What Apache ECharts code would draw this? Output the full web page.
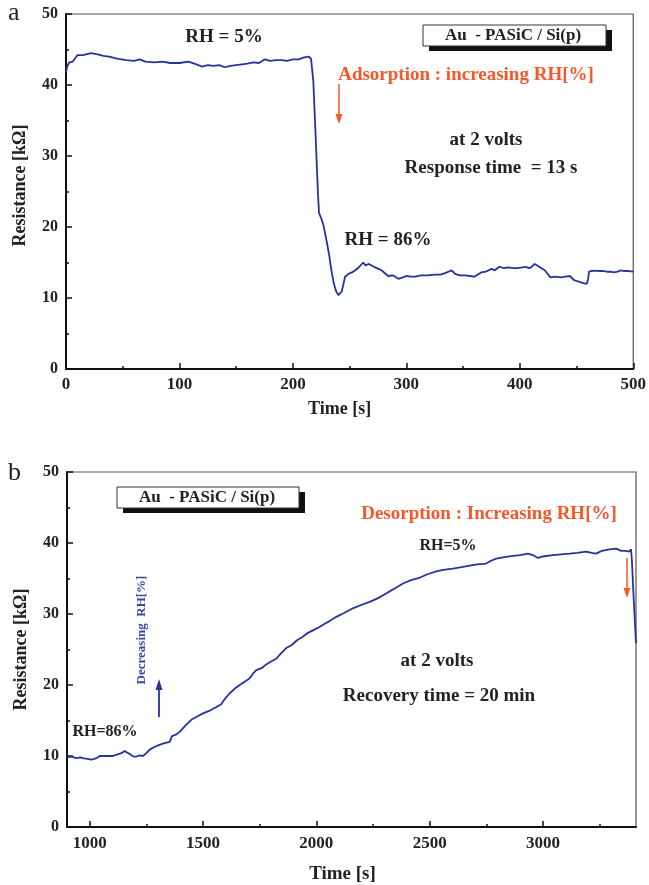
<!DOCTYPE html>
<html>
<head>
<meta charset="utf-8">
<script src="https://cdn.jsdelivr.net/npm/echarts@6/dist/echarts.min.js"></script>
<style>
html,body{margin:0;padding:0;background:#fff;}
#chart{width:649px;height:885px;}
</style>
</head>
<body>
<div id="chart"></div>
<script>
// ---- Panel a: adsorption (Time [s] vs Resistance [kΩ]) ----
const timeA = [0,1,3,6,10,15,22,28,33,38,45,53,60,65,70,78,85,92,100,108,115,120,125,130,135,140,145,150,155,160,165,170,175,180,185,190,195,200,205,210,214,216,218,220,222,223,225,227,230,232,234,236,238,240,241,243,246,249,252,255,258,262,264,267,270,274,278,284,288,293,297,300,304,308,313,319,325,330,334,337,340,343,347,352,356,360,363,366,370,375,378,382,386,390,394,398,402,405,408,410,413,415,418,422,427,431,436,440,444,448,452,456,459,460,461,463,466,470,474,477,480,483,486,489,492,496,500];
const resA = [41.8,42.6,43.2,43.3,44.2,44.2,44.5,44.3,44.1,44.0,43.7,43.5,43.4,43.6,43.3,43.2,43.3,43.1,43.1,43.3,42.9,42.6,42.8,42.7,42.8,42.5,42.7,42.8,42.9,43.0,43.2,43.1,43.6,43.4,43.5,43.5,43.4,43.6,43.6,43.9,44.0,43.7,40.5,33.0,25.0,22.0,21.2,20.2,17.8,16.0,13.8,12.1,11.0,10.4,10.3,10.9,13.0,13.4,13.6,13.9,14.3,15.0,14.6,14.8,14.5,14.2,13.9,13.1,13.2,12.7,12.9,13.1,13.0,13.0,13.2,13.2,13.3,13.3,13.5,13.7,13.9,13.4,13.2,13.2,13.1,13.0,13.3,13.6,13.7,14.1,13.9,14.4,14.2,14.3,14.2,14.2,14.3,14.4,14.2,14.3,14.8,14.6,14.3,13.9,12.9,13.0,12.9,13.0,13.1,12.5,12.3,12.1,12.0,12.5,13.7,13.8,13.85,13.8,13.8,13.7,13.7,13.6,13.7,13.9,13.8,13.8,13.7];

// ---- Panel b: desorption ----
const timeB = [900,920,940,960,970,990,1007,1020,1030,1044,1060,1080,1102,1120,1140,1154,1165,1180,1195,1206,1220,1235,1250,1265,1287,1310,1330,1353,1358,1363,1380,1397,1420,1448,1470,1500,1530,1559,1580,1600,1617,1640,1662,1685,1705,1720,1735,1760,1779,1800,1823,1845,1867,1890,1915,1940,1960,1985,2010,2035,2058,2088,2120,2161,2200,2235,2270,2308,2340,2382,2420,2455,2490,2529,2560,2602,2640,2676,2710,2749,2770,2793,2830,2867,2900,2933,2955,2977,3000,3043,3080,3117,3150,3190,3215,3234,3260,3293,3322,3345,3366,3380,3388,3392,3400,3410];
const resB = [9.8,9.9,9.7,9.8,9.7,9.6,9.5,9.6,9.7,10.0,10.0,10.0,10.0,10.2,10.4,10.7,10.5,10.2,9.9,9.9,10.1,10.0,10.4,10.9,11.3,11.6,11.8,12.0,12.1,12.8,13.0,13.4,14.2,15.1,15.5,16.0,16.4,16.9,17.3,18.2,18.8,19.5,20.0,20.5,20.9,21.6,22.1,22.4,22.9,23.3,23.7,24.5,25.2,25.6,26.3,26.8,27.3,27.7,28.1,28.6,29.0,29.6,30.1,30.8,31.3,31.7,32.2,32.9,33.5,34.3,34.8,35.1,35.6,36.0,36.2,36.4,36.6,36.8,37.0,37.1,37.5,37.8,38.0,38.2,38.3,38.5,38.3,37.9,38.1,38.3,38.4,38.5,38.6,38.8,38.6,38.5,38.9,39.1,39.2,38.9,38.9,38.8,39.1,37.5,32.0,25.9];

// ---- Axis ticks ----
const yTicks = [0,10,20,30,40,50];
const xTicksA = [0,100,200,300,400,500];
const xLabelsB = [1000,1500,2000,2500,3000];
const xMinorB = [1250,1750,2250,2750,3250];

const serif = '"Liberation Serif","DejaVu Serif",serif';
const lineColor = '#28329a';
const red = '#f2582c';

const dataA = timeA.map((t,i)=>[t,resA[i]]);
const dataB = timeB.map((t,i)=>[t,resB[i]]);
const plain = v => String(v);

function yAxis(gi){
  return {
    type:'value', gridIndex:gi, min:0, max:50, interval:10,
    axisLine:{show:true, lineStyle:{color:'#111', width:2}},
    axisTick:{show:true, inside:true, length:6, lineStyle:{color:'#111', width:1.5}},
    minorTick:{show:true, splitNumber:2, length:3, lineStyle:{color:'#111', width:1.5}},
    splitLine:{show:false}, minorSplitLine:{show:false},
    axisLabel:{margin:8, color:'#222', fontFamily:serif, fontWeight:'bold', fontSize:16, customValues:yTicks, formatter:plain},
    name:'Resistance [kΩ]', nameLocation:'middle', nameGap:37, nameRotate:90,
    nameTextStyle:{color:'#222', fontFamily:serif, fontWeight:'bold', fontSize:18, padding: gi===0 ? [0,0,0,12] : [0,0,0,0]}
  };
}

const big = 'bold 19px '+serif;
const option = {
  animation:false,
  backgroundColor:'#fff',
  grid:[
    {left:66, top:14, width:570, height:355, show:true, borderColor:'#555', borderWidth:1.2, backgroundColor:'transparent'},
    {left:67, top:472, width:569, height:355, show:true, borderColor:'#555', borderWidth:1.2, backgroundColor:'transparent'}
  ],
  xAxis:[
    {
      type:'value', gridIndex:0, min:0, max:500, interval:100, position:'bottom',
      axisLine:{show:true, lineStyle:{color:'#111', width:2}},
      axisTick:{show:true, inside:true, length:6, lineStyle:{color:'#111', width:1.5}},
      minorTick:{show:true, splitNumber:2, length:3, lineStyle:{color:'#111', width:1.5}},
      splitLine:{show:false}, minorSplitLine:{show:false},
      axisLabel:{margin:7, color:'#222', fontFamily:serif, fontWeight:'bold', fontSize:17, customValues:xTicksA, formatter:plain},
      name:'Time [s]', nameLocation:'middle', nameGap:31,
      nameTextStyle:{color:'#222', fontFamily:serif, fontWeight:'bold', fontSize:18, padding:[0,20,0,0]}
    },
    {
      type:'value', gridIndex:1, min:900, max:3410, position:'bottom',
      axisLine:{show:true, lineStyle:{color:'#111', width:2}},
      axisTick:{show:true, inside:true, length:6, customValues:xLabelsB, lineStyle:{color:'#111', width:1.5}},
      splitLine:{show:false},
      axisLabel:{margin:8, color:'#222', fontFamily:serif, fontWeight:'bold', fontSize:17, customValues:xLabelsB, formatter:plain},
      name:'Time [s]', nameLocation:'middle', nameGap:38,
      nameTextStyle:{color:'#222', fontFamily:serif, fontWeight:'bold', fontSize:19, padding:[0,18,0,0]}
    },
    {
      type:'value', gridIndex:1, min:900, max:3410, position:'bottom', offset:0,
      axisLine:{show:false},
      axisTick:{show:true, inside:true, length:3, customValues:xMinorB, lineStyle:{color:'#111', width:1.5}},
      splitLine:{show:false},
      axisLabel:{show:false}
    }
  ],
  yAxis:[yAxis(0), yAxis(1)],
  series:[
    {type:'line', xAxisIndex:0, yAxisIndex:0, data:dataA, showSymbol:false, symbol:'none',
     lineStyle:{color:lineColor, width:1.8}},
    {type:'line', xAxisIndex:1, yAxisIndex:1, data:dataB, showSymbol:false, symbol:'none',
     lineStyle:{color:lineColor, width:1.8}}
  ],
  graphic:[
    // panel letters
    {type:'text', left:8, top:0, style:{text:'a', font:'26px '+serif, fill:'#222'}},
    {type:'text', left:8, top:460, style:{text:'b', font:'26px '+serif, fill:'#222'}},
    // panel a annotations
    {type:'text', x:224, y:37, style:{text:'RH = 5%', font:big, fill:'#222', align:'center', verticalAlign:'middle'}},
    {type:'rect', shape:{x:429, y:30, width:183, height:21}, style:{fill:'#111'}},
    {type:'rect', shape:{x:423, y:25, width:183, height:21}, style:{fill:'#fff', stroke:'#333', lineWidth:1}},
    {type:'text', x:513, y:36, style:{text:'Au  - PASiC / Si(p)', font:'bold 17px '+serif, fill:'#222', align:'center', verticalAlign:'middle'}},
    {type:'text', x:466, y:75, style:{text:'Adsorption : increasing RH[%]', font:big, fill:red, align:'center', verticalAlign:'middle'}},
    {type:'line', shape:{x1:339, y1:84, x2:339, y2:116}, style:{stroke:red, lineWidth:1.5}},
    {type:'polygon', shape:{points:[[335.5,114],[342.5,114],[339,124]]}, style:{fill:red}},
    {type:'text', x:486, y:140, style:{text:'at 2 volts', font:big, fill:'#222', align:'center', verticalAlign:'middle'}},
    {type:'text', x:491, y:168, style:{text:'Response time  = 13 s', font:big, fill:'#222', align:'center', verticalAlign:'middle'}},
    {type:'text', x:388, y:240, style:{text:'RH = 86%', font:big, fill:'#222', align:'center', verticalAlign:'middle'}},
    // panel b annotations
    {type:'rect', shape:{x:123, y:492, width:182, height:21}, style:{fill:'#111'}},
    {type:'rect', shape:{x:117, y:487, width:182, height:21}, style:{fill:'#fff', stroke:'#333', lineWidth:1}},
    {type:'text', x:207, y:498, style:{text:'Au  - PASiC / Si(p)', font:'bold 17px '+serif, fill:'#222', align:'center', verticalAlign:'middle'}},
    {type:'text', x:489, y:514, style:{text:'Desorption : Increasing RH[%]', font:big, fill:red, align:'center', verticalAlign:'middle'}},
    {type:'text', x:448, y:546, style:{text:'RH=5%', font:'bold 16px '+serif, fill:'#222', align:'center', verticalAlign:'middle'}},
    {type:'line', shape:{x1:627, y1:558, x2:627, y2:590}, style:{stroke:red, lineWidth:1.5}},
    {type:'polygon', shape:{points:[[623.5,588],[630.5,588],[627,598]]}, style:{fill:red}},
    {type:'text', x:437, y:661, style:{text:'at 2 volts', font:big, fill:'#222', align:'center', verticalAlign:'middle'}},
    {type:'text', x:439, y:696, style:{text:'Recovery time = 20 min', font:big, fill:'#222', align:'center', verticalAlign:'middle'}},
    {type:'text', x:105, y:732, style:{text:'RH=86%', font:'bold 16px '+serif, fill:'#222', align:'center', verticalAlign:'middle'}},
    {type:'text', x:142, y:630, rotation:Math.PI/2, style:{text:'Decreasing  RH[%]', font:'bold 13px '+serif, fill:'#3d48a6', align:'center', verticalAlign:'middle'}},
    {type:'line', shape:{x1:159, y1:717, x2:159, y2:688}, style:{stroke:lineColor, lineWidth:1.8}},
    {type:'polygon', shape:{points:[[155.5,690],[162.5,690],[159,679]]}, style:{fill:lineColor}}
  ]
};

const chart = echarts.init(document.getElementById('chart'), null, {renderer:'canvas'});
chart.setOption(option);
</script>
</body>
</html>
